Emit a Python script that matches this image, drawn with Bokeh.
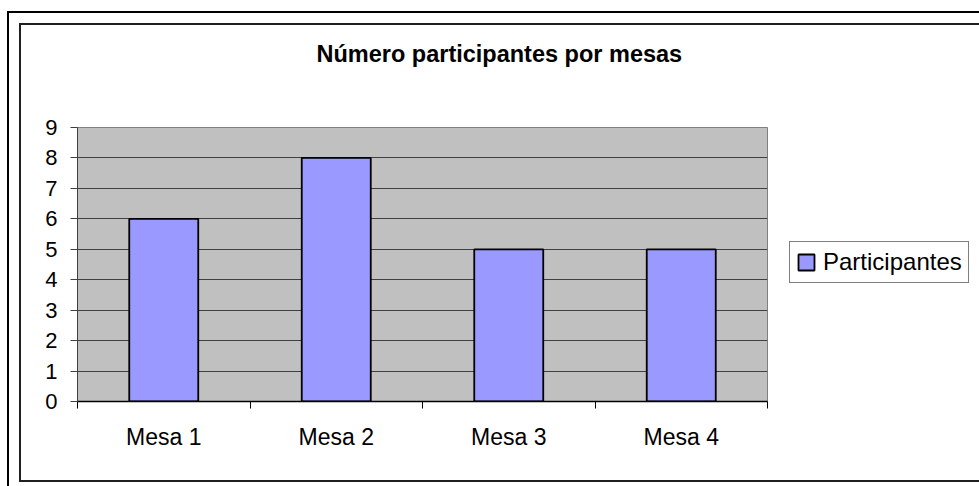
from bokeh.plotting import figure
from bokeh.models import Range1d, FixedTicker, Legend, LegendItem, InlineStyleSheet
from bokeh.embed import file_html
from bokeh.resources import INLINE

# ---- data ----
chart_title = "Número participantes por mesas"
mesas = ["Mesa 1", "Mesa 2", "Mesa 3", "Mesa 4"]
participantes = [6, 8, 5, 5]
series_name = "Participantes"
y_ticks = [0, 1, 2, 3, 4, 5, 6, 7, 8, 9]

FONT = "Liberation Sans"

x_centers = [i + 0.5 for i in range(len(mesas))]
x_bounds = list(range(len(mesas) + 1))

p = figure(frame_width=690, frame_height=274, output_backend="svg", toolbar_location=None,
           x_range=Range1d(0, len(mesas)), y_range=Range1d(y_ticks[0], y_ticks[-1]),
           min_border_left=77, min_border_right=204, min_border_top=127,
           min_border_bottom=85)
p.background_fill_color = "#C0C0C0"
p.border_fill_color = "white"
p.outline_line_color = "#808080"
p.outline_line_width = 1

# title (trailing blank lines lift it away from the plot area)
p.title.text = chart_title + "\n\n"
p.title.align = "left"
p.title.offset = 239
p.title.standoff = 18
p.title.text_font = FONT
p.title.text_font_size = "23.5px"
p.title.text_font_style = "bold"
p.title.text_color = "black"

r = p.vbar(x=x_centers, top=participantes, bottom=0, width=0.4,
           fill_color="#9999FF", line_color="black", line_width=1.8)

# x axis: labels at centres, tick marks at category boundaries
xa = p.xaxis[0]
xa.ticker = FixedTicker(ticks=x_centers, minor_ticks=x_bounds)
xa.major_label_overrides = {c: m for c, m in zip(x_centers, mesas)}
xa.major_tick_out = 0
xa.major_tick_in = 0
xa.minor_tick_out = 7
xa.minor_tick_in = 0
xa.minor_tick_line_color = "black"
xa.axis_line_color = "black"
xa.axis_line_width = 1.5
xa.major_label_standoff = 15
xa.major_label_text_font = FONT
xa.major_label_text_font_size = "23px"
xa.major_label_text_color = "black"

ya = p.yaxis[0]
ya.ticker = FixedTicker(ticks=y_ticks)
ya.major_tick_out = 7
ya.major_tick_in = 0
ya.minor_tick_out = 0
ya.minor_tick_in = 0
ya.major_tick_line_color = "#404040"
ya.axis_line_color = "#404040"
ya.major_label_standoff = 13
ya.major_label_text_font = FONT
ya.major_label_text_font_size = "22px"
ya.major_label_text_color = "black"

p.xgrid.visible = False
p.ygrid.ticker = FixedTicker(ticks=y_ticks[1:-1])
p.ygrid.grid_line_color = "#404040"
p.ygrid.grid_line_width = 1

legend = Legend(items=[LegendItem(label=series_name, renderers=[r])],
                location=(22, 118), border_line_color="black", border_line_width=1,
                background_fill_color="white", background_fill_alpha=1,
                label_text_font=FONT, label_text_font_size="24px", label_text_color="black",
                glyph_width=20, glyph_height=20, label_standoff=7, padding=6,
                spacing=0, margin=0)
p.add_layout(legend, "right")

# double frame drawn around the chart (decoration)
p.stylesheets = [InlineStyleSheet(css="""
:host { position: relative; }
:host::before { content: ""; position: absolute; left: 7px; top: 11px; right: 0; bottom: 0;
  border-left: 2px solid #000; border-top: 2px solid #000; pointer-events: none; z-index: 5; }
:host::after { content: ""; position: absolute; left: 19px; top: 23px; right: 0; bottom: 4px;
  border-left: 2px solid #202020; border-top: 2px solid #202020; border-bottom: 2px solid #202020;
  pointer-events: none; z-index: 5; }
""")]

open("out.html", "w", encoding="utf-8").write(file_html(p, INLINE))
